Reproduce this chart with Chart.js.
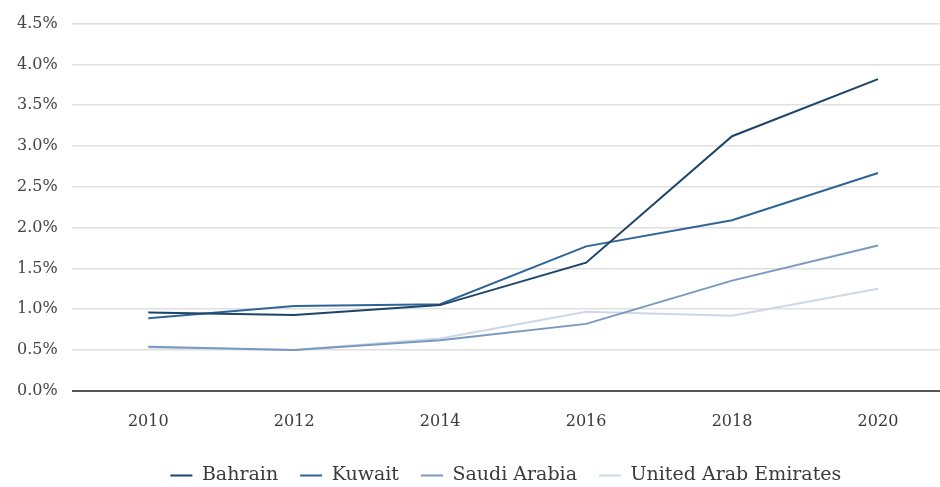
<!DOCTYPE html>
<html>
<head>
<meta charset="utf-8">
<script src="https://cdn.jsdelivr.net/npm/chart.js@4"></script>
<style>
  html, body { margin: 0; padding: 0; background: #fff; }
  #wrap { width: 940px; height: 487px; }
</style>
</head>
<body>
<div id="wrap"><canvas id="myChart"></canvas></div>
<script>
const years = [2010, 2012, 2014, 2016, 2018, 2020];
const bahrain = [0.96, 0.93, 1.05, 1.57, 3.12, 3.82];
const kuwait = [0.89, 1.04, 1.06, 1.77, 2.09, 2.67];
const saudiArabia = [0.54, 0.50, 0.62, 0.82, 1.35, 1.78];
const uae = [0.53, 0.50, 0.64, 0.97, 0.92, 1.25];
const yTicks = [0, 0.5, 1, 1.5, 2, 2.5, 3, 3.5, 4, 4.5];

const font = "'DejaVu Serif', 'Liberation Serif', serif";

function series(label, values, color) {
    return {
        label: label,
        data: values.map((v, i) => ({ x: years[i], y: v })),
        borderColor: color,
        backgroundColor: color,
        borderWidth: 2,
        pointRadius: 0,
        tension: 0
    };
}

const ctx = document.getElementById("myChart").getContext("2d");
new Chart(ctx, {
    type: "line",
    data: {
        datasets: [
            series("Bahrain", bahrain, "#1c4569"),
            series("Kuwait", kuwait, "#2d6597"),
            series("Saudi Arabia", saudiArabia, "#7899c0"),
            series("United Arab Emirates", uae, "#ccd8e6")
        ]
    },
    options: {
        responsive: true,
        maintainAspectRatio: false,
        animation: false,
        layout: { padding: { top: 12, right: 0, bottom: -8, left: 3 } },
        plugins: {
            legend: {
                position: "bottom",
                fullSize: false,
                labels: {
                    usePointStyle: true,
                    pointStyle: "line",
                    pointStyleWidth: 22,
                    padding: 22,
                    color: "#3a3a3a",
                    font: { family: font, size: 19, lineHeight: 1 }
                }
            },
            tooltip: { enabled: false }
        },
        scales: {
            x: {
                type: "linear",
                min: 2008.95,
                max: 2020.85,
                afterBuildTicks: axis => { axis.ticks = years.map(v => ({ value: v })); },
                grid: { display: false },
                border: { display: false },
                ticks: {
                    color: "#3a3a3a",
                    padding: 13,
                    font: { family: font, size: 16 },
                    callback: v => String(v)
                }
            },
            y: {
                min: 0,
                max: 4.5,
                afterBuildTicks: axis => { axis.ticks = yTicks.map(v => ({ value: v })); },
                grid: {
                    color: ctx => ctx.tick.value === 0 ? "#555" : "#e0e0e0",
                    lineWidth: ctx => ctx.tick.value === 0 ? 2 : 1.5,
                    drawTicks: false
                },
                border: { display: false },
                ticks: {
                    color: "#444",
                    padding: 14,
                    font: { family: font, size: 16 },
                    callback: v => v.toFixed(1) + "%"
                }
            }
        }
    }
});
</script>
</body>
</html>
